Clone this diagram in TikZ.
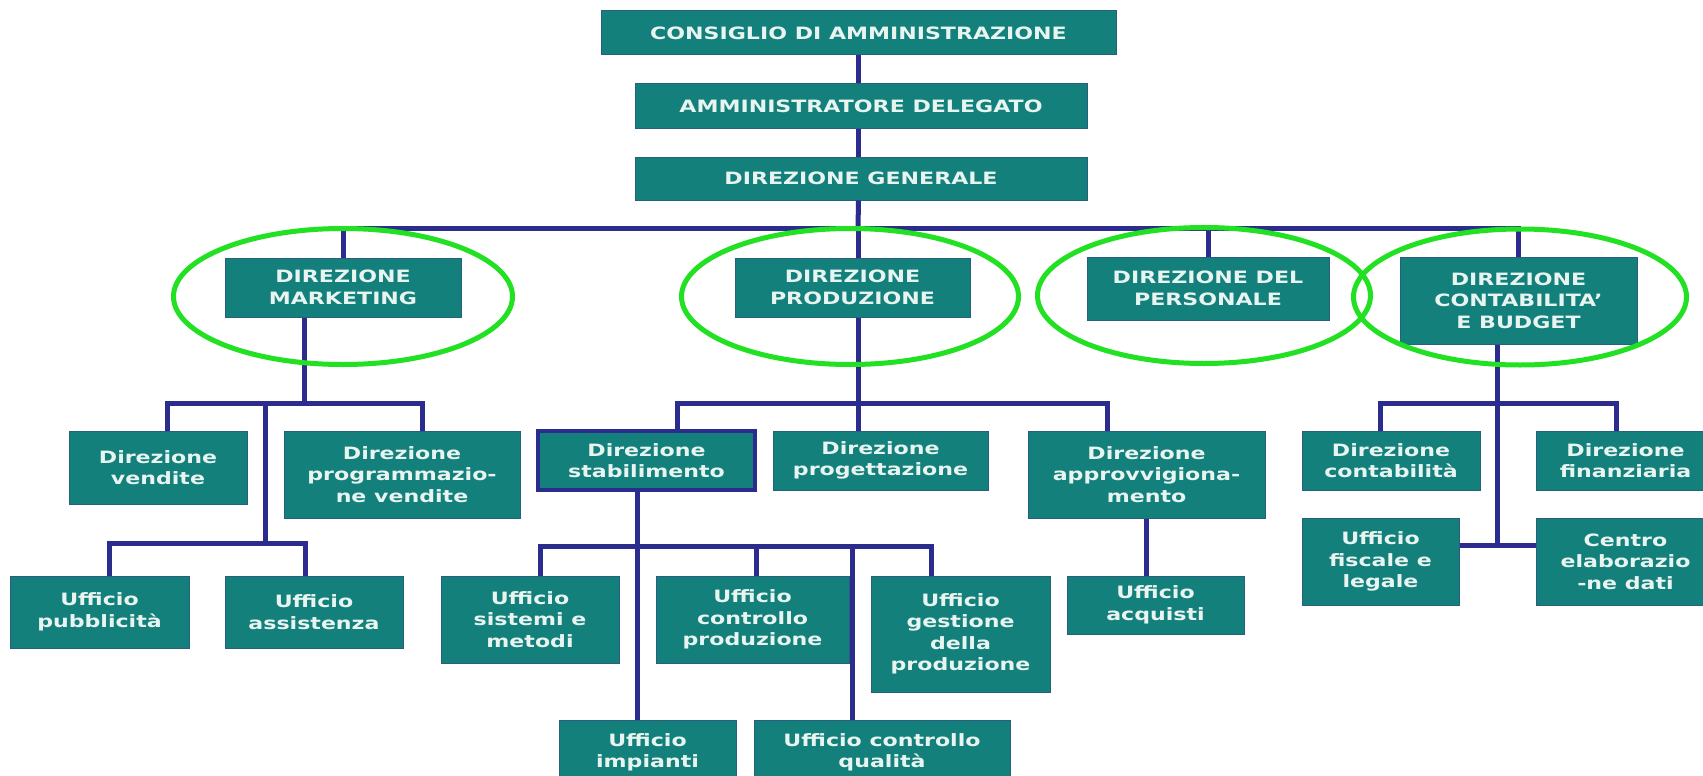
\documentclass[tikz,border=0pt]{standalone}
\usepackage{fontspec}
\newfontfamily\boxfont[FakeStretch=1.3]{DejaVu Sans}
\definecolor{boxfill}{HTML}{14807C}
\definecolor{boxedge}{HTML}{2A5E80}
\definecolor{boxtext}{HTML}{E8F4F0}
\definecolor{navy}{HTML}{2C2C8E}
\definecolor{ringgreen}{HTML}{22E022}
\begin{document}
\begin{tikzpicture}[x=1pt,y=-1pt,line join=miter,
  box/.style={rectangle, fill=boxfill, draw=boxedge, line width=1pt, inner sep=0pt,
    text=boxtext, align=center, font=\boxfont\bfseries\fontsize{17}{21.5}\selectfont},
  boldbox/.style={box, draw=navy, line width=4pt},
  conn/.style={draw=navy, line width=5pt},
  ring/.style={draw=ringgreen, line width=5pt}]
\fill[white] (0,0) rectangle (1703,776);
\clip (0,0) rectangle (1703,776);

% top levels
\node[box, minimum width=515pt, minimum height=44pt] (cda) at (858.5,33) {CONSIGLIO DI AMMINISTRAZIONE};
\node[box, minimum width=452pt, minimum height=44pt] (ad) at (861,106) {AMMINISTRATORE DELEGATO};
\node[box, minimum width=452pt, minimum height=43pt] (dg) at (861,178.5) {DIREZIONE GENERALE};

% directions
\node[box, minimum width=236pt, minimum height=59pt] (mkt) at (343,287.5) {DIREZIONE\\MARKETING};
\node[box, minimum width=235pt, minimum height=59pt] (prod) at (852.5,287.5) {DIREZIONE\\PRODUZIONE};
\node[box, minimum width=242pt, minimum height=63pt] (pers) at (1208,288.5) {DIREZIONE DEL\\PERSONALE};
\node[box, minimum width=237pt, minimum height=87pt] (cont) at (1518.5,300.5) {DIREZIONE\\CONTABILITA’\\E BUDGET};

% second level
\node[box, minimum width=178pt, minimum height=73pt] (vend) at (158,467.5) {Direzione\\vendite};
\node[box, minimum width=236pt, minimum height=87pt] (prog) at (402,474.5) {Direzione\\programmazio-\\ne vendite};
\node[boldbox, minimum width=217pt, minimum height=59pt] (stab) at (646.5,460.5) {Direzione\\stabilimento};
\node[box, minimum width=215pt, minimum height=59pt] (proget) at (880.5,460.5) {Direzione\\progettazione};
\node[box, minimum width=237pt, minimum height=87pt] (appr) at (1146.5,474.5) {Direzione\\approvvigiona-\\mento};
\node[box, minimum width=178pt, minimum height=59pt] (dcont) at (1391,460.5) {Direzione\\contabilità};
\node[box, minimum width=179pt, minimum height=59pt] (dfin) at (1625.5,460.5) {Direzione\\finanziaria};

% offices
\node[box, minimum width=179pt, minimum height=72pt] (pubb) at (99.5,612) {Ufficio\\pubblicità};
\node[box, minimum width=178pt, minimum height=72pt] (assist) at (314,612) {Ufficio\\assistenza};
\node[box, minimum width=178pt, minimum height=87pt] (sist) at (530,619.5) {Ufficio\\sistemi e\\metodi};
\node[box, minimum width=193pt, minimum height=87pt] (cprod) at (752.5,619.5) {Ufficio\\controllo\\produzione};
\node[box, minimum width=179pt, minimum height=116pt] (gest) at (960.5,634) {Ufficio\\gestione\\della\\produzione};
\node[box, minimum width=177pt, minimum height=58pt] (acq) at (1155.5,605) {Ufficio\\acquisti};
\node[box, minimum width=157pt, minimum height=87pt] (fisc) at (1380.5,561.5) {Ufficio\\fiscale e\\legale};
\node[box, minimum width=179pt, minimum height=87pt] (ced) at (1625.5,561.5) {Centro\\elaborazio\\-ne dati};
\node[box, minimum width=177pt, minimum height=65pt] (imp) at (647.5,752.5) {Ufficio\\impianti};
\node[box, minimum width=256pt, minimum height=65pt] (cqual) at (882,752.5) {Ufficio controllo\\qualità};

% connectors: top
\coordinate (bus) at (858,228);
\draw[conn] (cda.south) -- (cda.south |- ad.north);
\draw[conn] (cda.south |- ad.south) -- (cda.south |- dg.north);
\draw[conn] (cda.south |- dg.south) -- (bus);
\draw[conn] (mkt.north) |- (bus) -| (cont.north);
\draw[conn] (pers.north) -- (pers.north |- bus);
\draw[conn] (bus) -- (bus |- prod.north);

% marketing
\coordinate (mbar) at (304,403);
\coordinate (mj) at (265,403);
\coordinate (ubar) at (265,543);
\draw[conn] (mbar |- mkt.south) -- (mbar);
\draw[conn] (167,0 |- vend.north) |- (mbar) -| (422,0 |- prog.north);
\draw[conn] (mj) -- (ubar);
\draw[conn] (109,0 |- pubb.north) |- (ubar) -| (305,0 |- assist.north);

% produzione
\coordinate (pj) at (858,403);
\coordinate (sj) at (637,546);
\draw[conn] (pj |- prod.south) -- (pj);
\draw[conn] (677,0 |- stab.north) |- (pj) -| (1107,0 |- appr.north);
\draw[conn] (pj) -- (pj |- proget.north);
\draw[conn] (sj |- stab.south) -- (sj |- imp.north);
\draw[conn] (540,0 |- sist.north) |- (sj) -| (931,0 |- gest.north);
\draw[conn] (756,0 |- sj) -- (756,0 |- cprod.north);
\draw[conn] (852,0 |- sj) -- (852,0 |- cqual.north);
\draw[conn] (appr.south) -- (appr.south |- acq.north);

% contabilita
\coordinate (cj) at (1497,403);
\coordinate (cb) at (1497,545);
\draw[conn] (cj |- cont.south) -- (cb);
\draw[conn] (1380,0 |- dcont.north) |- (cj) -| (1616,0 |- dfin.north);
\draw[conn] (fisc.east |- cb) -- (ced.west |- cb);

% green rings
\draw[ring] (343,296.5) ellipse [x radius=169.5, y radius=68];
\draw[ring] (850,296.5) ellipse [x radius=168.5, y radius=68];
\draw[ring] (1204,295.5) ellipse [x radius=166.5, y radius=68];
\draw[ring] (1520,297) ellipse [x radius=166.5, y radius=68];
\end{tikzpicture}
\end{document}
